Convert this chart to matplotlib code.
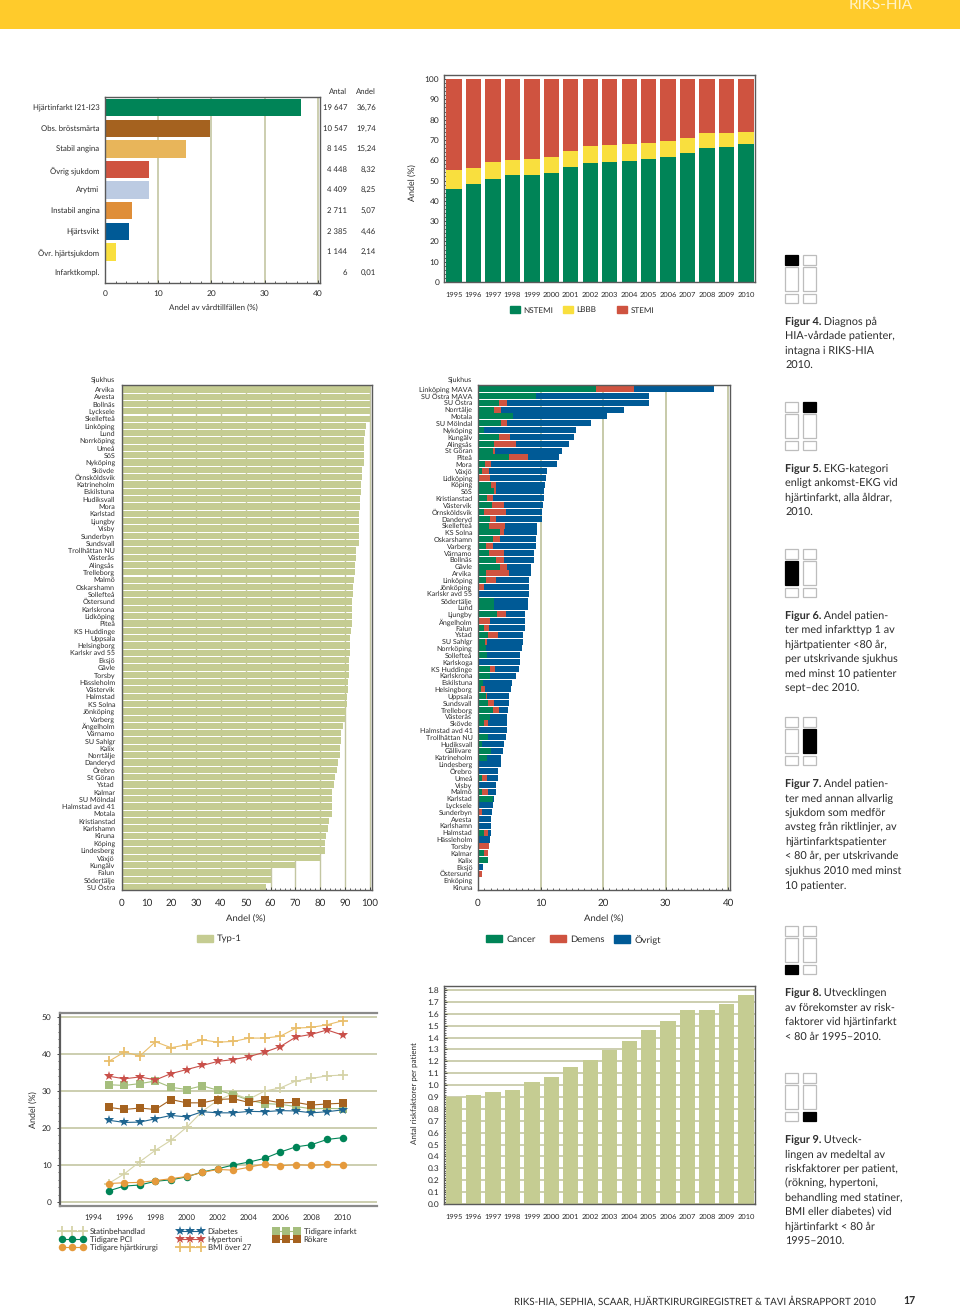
import matplotlib
matplotlib.use('Agg')
import matplotlib.pyplot as plt
from matplotlib.patches import Rectangle, Patch
from matplotlib.lines import Line2D
from matplotlib.ticker import MultipleLocator
from matplotlib.transforms import blended_transform_factory
import numpy as np

plt.rcParams['font.family'] = ['Lato', 'DejaVu Sans']
plt.rcParams['text.hinting'] = 'no_hinting'
plt.rcParams['text.color'] = '#2b2b2b'
plt.rcParams['axes.labelcolor'] = '#2b2b2b'
plt.rcParams['xtick.color'] = '#444444'
plt.rcParams['ytick.color'] = '#444444'
plt.rcParams['xtick.labelcolor'] = '#2b2b2b'
plt.rcParams['ytick.labelcolor'] = '#2b2b2b'

W, H = 960, 1310

# figur 4
diag_names = ['Hjärtinfarkt I21-I23', 'Obs. bröstsmärta', 'Stabil angina', 'Övrig sjukdom', 'Arytmi',
              'Instabil angina', 'Hjärtsvikt', 'Övr. hjärtsjukdom', 'Infarktkompl.']
diag_antal = ['19 647', '10 547', '8 145', '4 448', '4 409', '2 711', '2 385', '1 144', '6']
diag_andel = [36.76, 19.74, 15.24, 8.32, 8.25, 5.07, 4.46, 2.14, 0.01]
diag_colors = ['#008457', '#A5621F', '#E8B55A', '#CF5340', '#BCCBE2', '#DF8E38', '#005A96', '#F9DF3E', '#333333']

# figur 5 och 9
years = list(range(1995, 2011))
nstemi = [46, 48.5, 51, 52.5, 52.5, 53.7, 56.5, 58.7, 59, 59.8, 60.5, 61.5, 63.8, 66, 66.5, 67.8]
lbbb = [9, 7.5, 8.2, 7.7, 8.3, 8.1, 8.2, 8.5, 8.3, 8.1, 8.1, 7.9, 7.3, 7.3, 6.8, 6]
stemi = [45, 44, 40.8, 39.8, 39.2, 38.2, 35.3, 32.8, 32.7, 32.1, 31.4, 30.6, 28.9, 26.7, 26.7, 26.2]
riskfaktorer = [0.9, 0.915, 0.945, 0.955, 1.03, 1.07, 1.15, 1.215, 1.295, 1.37, 1.46, 1.54, 1.63, 1.635, 1.685, 1.755]

# figur 6
typ1_names = ['Arvika', 'Avesta', 'Bollnäs', 'Lycksele', 'Skellefteå', 'Linköping', 'Lund', 'Norrköping', 'Umeå',
              'SöS', 'Nyköping', 'Skövde', 'Örnsköldsvik', 'Katrineholm', 'Eskilstuna', 'Hudiksvall', 'Mora',
              'Karlstad', 'Ljungby', 'Visby', 'Sunderbyn', 'Sundsvall', 'Trollhättan NU', 'Västerås', 'Alingsås',
              'Trelleborg', 'Malmö', 'Oskarshamn', 'Sollefteå', 'Östersund', 'Karlskrona', 'Lidköping', 'Piteå',
              'KS Huddinge', 'Uppsala', 'Helsingborg', 'Karlskr avd 55', 'Eksjö', 'Gävle', 'Torsby', 'Hässleholm',
              'Västervik', 'Halmstad', 'KS Solna', 'Jönköping', 'Varberg', 'Ängelholm', 'Värnamo', 'SU Sahlgr',
              'Kalix', 'Norrtälje', 'Danderyd', 'Örebro', 'St Göran', 'Ystad', 'Kalmar', 'SU Mölndal',
              'Halmstad avd 41', 'Motala', 'Kristianstad', 'Karlshamn', 'Kiruna', 'Köping', 'Lindesberg', 'Växjö',
              'Kungälv', 'Falun', 'Södertälje', 'SU Östra']
typ1 = [100, 100, 100, 100, 100, 98.5, 98.2, 97.8, 97.8, 97.8, 97.6, 97, 96.8, 96.6, 96.5, 96.1, 96.1,
        95.6, 95.6, 95.6, 95.6, 95.6, 94.6, 94.5, 94.3, 94.2, 93.9, 93.4, 93.4, 93, 93, 93, 92.9,
        92.6, 92.3, 92.3, 92.3, 91.9, 91.9, 91.9, 91.5, 91.5, 91, 90.7, 90.3, 90.2, 89.4, 88.6, 88.4,
        88.2, 88.2, 87.3, 86.8, 86, 85.5, 85, 84.8, 84.7, 84.7, 83.7, 83.3, 82.5, 82, 82, 80,
        70, 60.2, 60.2, 58]

# figur 7
avsteg_names = ['Linköping MAVA', 'SU Östra MAVA', 'SU Östra', 'Norrtälje', 'Motala', 'SU Mölndal', 'Nyköping',
                'Kungälv', 'Alingsås', 'St Göran', 'Piteå', 'Mora', 'Växjö', 'Lidköping', 'Köping', 'SöS',
                'Kristianstad', 'Västervik', 'Örnsköldsvik', 'Danderyd', 'Skellefteå', 'KS Solna', 'Oskarshamn',
                'Varberg', 'Värnamo', 'Bollnäs', 'Gävle', 'Arvika', 'Linköping', 'Jönköping', 'Karlskr avd 55',
                'Södertälje', 'Lund', 'Ljungby', 'Ängelholm', 'Falun', 'Ystad', 'SU Sahlgr', 'Norrköping',
                'Sollefteå', 'Karlskoga', 'KS Huddinge', 'Karlskrona', 'Eskilstuna', 'Helsingborg', 'Uppsala',
                'Sundsvall', 'Trelleborg', 'Västerås', 'Skövde', 'Halmstad avd 41', 'Trollhättan NU', 'Hudiksvall',
                'Gällivare', 'Katrineholm', 'Lindesberg', 'Örebro', 'Umeå', 'Visby', 'Malmö', 'Karlstad', 'Lycksele',
                'Sunderbyn', 'Avesta', 'Karlshamn', 'Halmstad', 'Hässleholm', 'Torsby', 'Kalmar', 'Kalix', 'Eksjö',
                'Östersund', 'Enköping', 'Kiruna']
cancer = [18.8, 9.2, 3.4, 2.5, 5.6, 3.7, 0.9, 3.3, 2.5, 2.4, 5.0, 1.1, 0.6, 0, 2.1, 2.5, 1.5, 2.2, 0.9, 1.9,
          1.8, 3.5, 2.4, 1.3, 1.8, 2.8, 3.5, 1.3, 1.3, 0, 0, 2.5, 2.5, 3.0, 0, 1.0, 1.6, 1.1, 1.2, 1.4,
          0, 1.9, 1.9, 0.8, 0.4, 1.2, 1.6, 2.4, 1.9, 0.9, 0, 1.6, 0.7, 2.1, 1.4, 0, 0.2, 0.7, 0, 0.7,
          2.4, 0, 0.1, 0, 0, 1.0, 0, 0, 1.0, 1.6, 0, 0, 0, 0]
demens = [6.2, 0, 1.3, 1.2, 0, 0.9, 0, 1.8, 3.5, 0.3, 3.0, 1.0, 1.1, 1.9, 0.7, 0.4, 0.9, 2.0, 3.5, 0.9,
          2.5, 0.7, 1.1, 1.1, 2.4, 1.4, 1.2, 3.6, 1.5, 0.9, 0, 0, 0, 1.5, 1.9, 0.7, 1.6, 0.3, 0, 0,
          0, 0.8, 0, 0, 0.7, 0.2, 0.9, 0.9, 0, 0.7, 0, 0, 0, 0, 0, 0, 0, 0.7, 0, 0.9,
          0, 0, 0.5, 0, 0, 0.6, 0, 1.8, 0.6, 0, 0, 0.7, 0, 0]
ovrigt = [12.7, 18.2, 22.6, 19.6, 15.1, 13.5, 14.8, 10.2, 8.5, 10.7, 4.9, 10.5, 9.4, 9.0, 7.9, 7.7, 8.2, 6.2, 5.9, 7.4,
          5.1, 5.2, 5.7, 6.8, 4.8, 4.7, 3.8, 3.6, 5.4, 7.2, 8.1, 5.5, 5.5, 3.0, 5.6, 5.8, 4.0, 5.8, 5.9, 5.3,
          6.7, 3.8, 4.1, 4.7, 4.1, 3.6, 2.4, 1.5, 2.8, 3.1, 4.7, 2.8, 3.5, 1.9, 2.3, 3.6, 3.0, 1.8, 2.8, 1.2,
          0.1, 2.4, 1.6, 2.1, 2.1, 0.5, 1.9, 0, 0, 0, 0.8, 0, 0, 0]

# figur 8
statin = [5, 7.6, 10.9, 14, 16.7, 20.2, 24.5, 27.5, 29.3, 27.8, 30, 30.8, 32.7, 33.4, 34.1, 34.3]
pci = [3, 4.3, 4.6, 5.6, 6, 6.8, 8.1, 9, 10, 10.8, 11.8, 13.5, 14.9, 15.5, 16.9, 17.4]
kirurgi = [5, 5.2, 5.3, 5.8, 6.3, 6.9, 8, 8.8, 8.6, 9.4, 10.3, 9.8, 10.1, 9.9, 10.2, 10.1]
diabetes = [22.1, 21.5, 21.6, 22.5, 23.4, 23, 24.4, 24.1, 24.1, 24.5, 24.4, 24.7, 24.6, 24.1, 24.4, 24.9]
hypertoni = [34, 33.3, 33.8, 33, 34.7, 35.8, 36.9, 38, 38.5, 39.3, 40.5, 42, 44.6, 45.3, 46.5, 45.1]
bmi = [38, 40.5, 39.5, 43.3, 41.7, 42.5, 43.8, 43.2, 43.4, 44.3, 44.3, 44.8, 47, 47.2, 47.9, 49]
infarkt = [31.7, 31.5, 32, 32.7, 31, 30.4, 31.4, 30.2, 29, 27.5, 26.6, 26.4, 25.8, 25.2, 25.3, 25.2]
rokare = [25.6, 25, 25.4, 25, 27.7, 26.8, 26.8, 27.7, 27.9, 26.9, 27.6, 26.8, 26.9, 26.2, 26.5, 26.7]

captions = [
    ('Figur 4.', ['Diagnos på', 'HIA-vårdade patienter,', 'intagna i RIKS-HIA', '2010.']),
    ('Figur 5.', ['EKG-kategori', 'enligt ankomst-EKG vid', 'hjärtinfarkt, alla åldrar,', '2010.']),
    ('Figur 6.', ['Andel patien-', 'ter med infarkttyp 1 av', 'hjärtpatienter <80 år,', 'per utskrivande sjukhus',
                  'med minst 10 patienter', 'sept–dec 2010.']),
    ('Figur 7.', ['Andel patien-', 'ter med annan allvarlig', 'sjukdom som medför', 'avsteg från riktlinjer, av',
                  'hjärtinfarktspatienter', '< 80 år, per utskrivande', 'sjukhus 2010 med minst', '10 patienter.']),
    ('Figur 8.', ['Utvecklingen', 'av förekomster av risk-', 'faktorer vid hjärtinfarkt', '< 80 år 1995–2010.']),
    ('Figur 9.', ['Utveck-', 'lingen av medeltal av', 'riskfaktorer per patient,', '(rökning, hypertoni,',
                  'behandling med statiner,', 'BMI eller diabetes) vid', 'hjärtinfarkt < 80 år', '1995–2010.']),
]

GREEN, RED, BLUE, YELLOW, OLIVE = '#008457', '#CF5340', '#005A96', '#F9DF3E', '#C5CC92'
GRID = '#C3C6A2'
SPINE = '#5a5a5a'
CAP_SIZE = 7.8


def place(left, top, right, bottom):
    return fig.add_axes([left / W, 1 - bottom / H, (right - left) / W, (bottom - top) / H])


def style(ax, size=6.0, lw=1.0):
    for s in ax.spines.values():
        s.set_color(SPINE)
        s.set_linewidth(lw)
    ax.tick_params(which='major', labelsize=size, length=2.5, width=0.7, direction='in')
    ax.tick_params(which='minor', length=1.5, width=0.6, direction='in')
    ax.set_axisbelow(True)


def key(handle, label, x, y, size=5.9, length=1.2, pad=0.45, height=0.95, points=1):
    # en post per legend, så att varje ruta hamnar där den ska
    return fig.legend(handles=[handle], labels=[label], loc='center left', bbox_to_anchor=(x / W, 1 - y / H),
                      frameon=False, borderpad=0, borderaxespad=0, fontsize=size, handlelength=length,
                      handletextpad=pad, handleheight=height, numpoints=points)


fig = plt.figure(figsize=(W / 100, H / 100), dpi=100, facecolor='white')

page = fig.add_axes([0, 0, 1, 1], zorder=-1)
page.set_xlim(0, W)
page.set_ylim(H, 0)
page.axis('off')

# sidhuvud och sidfot
page.add_patch(Rectangle((0, 0), W, 29, facecolor='#FFCB2B', edgecolor='none'))
page.text(849, 6, 'RIKS-HIA', color='#FFF3C8', fontsize=11, va='center', ha='left')
page.text(514, 1301, 'RIKS-HIA, SEPHIA, SCAAR, HJÄRTKIRURGIREGISTRET & TAVI ÅRSRAPPORT 2010', fontsize=7.0,
          va='center', ha='left')
page.text(903, 1301, '17', fontsize=7.6, fontweight='bold', va='center', ha='left')

# små sidikoner och figurtexter
icon_tops = [255, 402, 549, 717, 926, 1073]
icon_active = [(0, 0), (1, 0), (0, 1), (1, 1), (0, 2), (1, 2)]
caption_tops = [321, 468, 615, 783, 992, 1139]
for top, active, cap_y, (head, lines) in zip(icon_tops, icon_active, caption_tops, captions):
    for col, x0 in enumerate([785, 803]):
        for row, (dy, h) in enumerate([(0, 10), (12, 24), (39, 9)]):
            on = (col, row) == active
            page.add_patch(Rectangle((x0, top + dy), 13, h, facecolor='black' if on else 'white',
                                     edgecolor='black' if on else '#BDBDBD', linewidth=0.9))
    t = page.text(785, cap_y + 4, head, fontsize=CAP_SIZE, fontweight='bold', va='baseline', ha='left')
    page.annotate(' ' + lines[0], xy=(1, 0), xycoords=t, fontsize=CAP_SIZE, va='bottom', ha='left',
                  annotation_clip=False)
    for i, line in enumerate(lines[1:], start=1):
        page.text(785, cap_y + 4 + i * 14.5, line, fontsize=CAP_SIZE, va='baseline', ha='left')

# figur 4
ax = place(105, 97.3, 320, 283)
style(ax)
pos = np.arange(len(diag_names))
ax.barh(pos, diag_andel, height=0.84, color=diag_colors)
ax.set_ylim(8.5, -0.5)
ax.set_xlim(0, 40.4)
ax.set_yticks(pos, diag_names, fontsize=5.6)
ax.tick_params(axis='y', length=0, pad=4)
ax.set_xticks([0, 10, 20, 30, 40])
ax.xaxis.set_minor_locator(MultipleLocator(2))
ax.tick_params(axis='x', pad=5)
ax.grid(axis='x', color=GRID, lw=1.2)
ax.set_xlabel('Andel av vårdtillfällen (%)', fontsize=5.8)
ax.xaxis.set_label_coords(213, 308, transform=page.transData)
ax.xaxis.label.set_va('center')
table = blended_transform_factory(page.transData, ax.transData)
ax.text(347, -0.78, 'Antal', transform=table, ha='right', va='center', fontsize=5.6, clip_on=False)
ax.text(376, -0.78, 'Andel', transform=table, ha='right', va='center', fontsize=5.6, clip_on=False)
for i, (n, v) in enumerate(zip(diag_antal, diag_andel)):
    ax.text(347, i, n, transform=table, ha='right', va='center', fontsize=5.6, clip_on=False)
    ax.text(376, i, f'{v:.2f}'.replace('.', ','), transform=table, ha='right', va='center', fontsize=5.6,
            clip_on=False)

# figur 5
ax = place(444, 75, 755, 282)
style(ax)
x = np.array(years)
ax.bar(x, nstemi, width=0.79, color=GREEN)
ax.bar(x, lbbb, width=0.79, bottom=nstemi, color=YELLOW)
ax.bar(x, stemi, width=0.79, bottom=np.add(nstemi, lbbb), color=RED)
ax.set_xlim(1994.49, 2010.46)
ax.set_ylim(0, 102)
ax.set_xticks(years, years, fontsize=5.4)
ax.tick_params(axis='x', length=0, pad=7)
ax.set_yticks(range(0, 101, 10))
ax.yaxis.set_minor_locator(MultipleLocator(2))
ax.set_ylabel('Andel (%)', fontsize=6.4)
ax.yaxis.set_label_coords(417, 183, transform=page.transData)
key(Patch(color=GREEN), 'NSTEMI', 510, 310)
key(Patch(color=YELLOW), 'LBBB', 563, 310)
key(Patch(color=RED), 'STEMI', 617, 310)

# figur 6
ax = place(122, 385, 372, 890)
style(ax, size=7.0)
pos = np.arange(len(typ1_names))
ax.barh(pos, typ1, height=0.86, color=OLIVE)
ax.set_ylim(68.41, -0.6)
ax.set_xlim(0, 101)
ax.set_yticks(pos, typ1_names, fontsize=5.1)
ax.tick_params(axis='y', length=0, pad=5)
ax.set_xticks(range(0, 101, 10))
ax.xaxis.set_minor_locator(MultipleLocator(2))
ax.tick_params(axis='x', pad=6)
ax.grid(axis='x', color=GRID, lw=1.0)
ax.set_xlabel('Andel (%)', fontsize=6.8)
ax.xaxis.set_label_coords(246, 919, transform=page.transData)
ax.xaxis.label.set_va('center')
page.text(115, 380, 'Sjukhus', fontsize=5.1, ha='right', va='center')
key(Patch(color=OLIVE), 'Typ-1', 197, 939, size=6.8, length=1.7, pad=0.45, height=0.9)

# figur 7
ax = place(478, 385, 730, 890)
style(ax, size=7.0)
pos = np.arange(len(avsteg_names))
c = np.array(cancer)
d = np.array(demens)
ax.barh(pos, c, height=0.88, color=GREEN)
ax.barh(pos, d, left=c, height=0.88, color=RED)
ax.barh(pos, ovrigt, left=c + d, height=0.88, color=BLUE)
ax.set_ylim(73.4, -0.6)
ax.set_xlim(0, 40.3)
ax.set_yticks(pos, avsteg_names, fontsize=5.1)
ax.tick_params(axis='y', length=0, pad=4)
ax.set_xticks([0, 10, 20, 30, 40])
ax.xaxis.set_minor_locator(MultipleLocator(1))
ax.tick_params(axis='x', pad=6)
ax.grid(axis='x', color=GRID, lw=1.3)
ax.set_xlabel('Andel (%)', fontsize=6.8)
ax.xaxis.set_label_coords(604, 919, transform=page.transData)
ax.xaxis.label.set_va('center')
page.text(472, 380, 'Sjukhus', fontsize=5.1, ha='right', va='center')
key(Patch(color=GREEN), 'Cancer', 486, 939, size=6.8, length=1.7, pad=0.45, height=0.9)
key(Patch(color=RED), 'Demens', 550, 939, size=6.8, length=1.7, pad=0.45, height=0.9)
key(Patch(color=BLUE), 'Övrigt', 614, 939, size=6.8, length=1.7, pad=0.45, height=0.9)

# figur 8
ax = place(60, 1013, 377, 1206)
style(ax, lw=1.6)
ax.spines['right'].set_visible(False)
ax.spines['top'].set_color('#8a8a8a')
ax.spines['bottom'].set_color('#8a8a8a')
series = [
    ('Statinbehandlad', statin, '#D5D3A8', '+', 60, 1232),
    ('Tidigare infarkt', infarkt, '#A5BE7D', 's', 274, 1232),
    ('BMI över 27', bmi, '#E9BE6B', '+', 178, 1248),
    ('Hypertoni', hypertoni, '#C9504A', '*', 178, 1240),
    ('Diabetes', diabetes, '#1F6590', '*', 178, 1232),
    ('Rökare', rokare, '#A5621F', 's', 274, 1240),
    ('Tidigare PCI', pci, '#008457', 'o', 60, 1240),
    ('Tidigare hjärtkirurgi', kirurgi, '#E59A3C', 'o', 60, 1248),
]
for name, vals, col, mark, lx, ly in series:
    ms = {'+': 7.0, 's': 5.6, 'o': 5.4, '*': 7.6}[mark]
    kw = dict(color=col, marker=mark, ms=ms, mew=1.3 if mark == '+' else 0, lw=0.8)
    ax.plot(years, vals, **kw)
    key(Line2D([], [], **kw), name, lx, ly, size=5.7, length=3.15, pad=0.6, points=3)
ax.set_xlim(1991.88, 2012.2)
ax.set_ylim(-1.08, 51.08)
ax.set_xticks(range(1994, 2011, 2), range(1994, 2011, 2), fontsize=5.6)
ax.tick_params(axis='x', length=0, pad=6)
ax.set_yticks(range(0, 51, 10))
ax.yaxis.set_minor_locator(MultipleLocator(2))
ax.tick_params(axis='y', which='both', direction='out')
ax.grid(axis='y', color=GRID, lw=1.2)
ax.set_ylabel('Andel (%)', fontsize=6.4)
ax.yaxis.set_label_coords(38, 1110, transform=page.transData)

# figur 9
ax = place(444, 986, 755, 1204)
style(ax)
ax.bar(years, riskfaktorer, width=0.79, color=OLIVE)
ax.set_xlim(1994.49, 2010.46)
ax.set_ylim(0, 1.834)
ax.set_xticks(years, years, fontsize=5.4)
ax.tick_params(axis='x', length=0, pad=7)
ax.set_yticks(np.arange(0, 1.81, 0.1), [f'{v / 10:.1f}' for v in range(19)])
ax.yaxis.set_minor_locator(MultipleLocator(0.02))
ax.grid(axis='y', color=GRID, lw=1.2)
ax.set_ylabel('Antal riskfaktorer per patient', fontsize=5.8)
ax.yaxis.set_label_coords(419, 1093, transform=page.transData)

fig.savefig('out.png', dpi=100)
